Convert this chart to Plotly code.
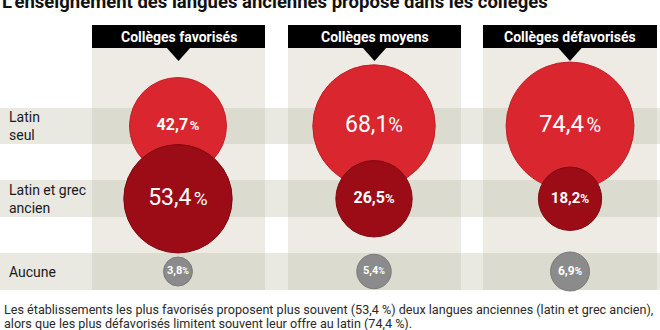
import plotly.graph_objects as go

# ---------------- data ----------------
colleges = ["Collèges favorisés", "Collèges moyens", "Collèges défavorisés"]
rows = ["Latin<br>seul", "Latin et grec<br>ancien", "Aucune"]
latin_seul = [42.7, 68.1, 74.4]
latin_grec = [53.4, 26.5, 18.2]
aucune = [3.8, 5.4, 6.9]
title_text = "L'enseignement des langues anciennes proposé dans les collèges"
footnote_lines = [
    "Les établissements les plus favorisés proposent plus souvent (53,4 %) deux langues anciennes (latin et grec ancien),",
    "alors que les plus défavorisés limitent souvent leur offre au latin (74,4 %).",
]

# ---------------- style ----------------
W, H = 660, 330
FONT = "Roboto"
RED = "#d9262f"
DARK = "#9c0c16"
GREY = "#8b8b8b"
PANEL = "#edebe4"
PANEL_BAND = "#dcdbcf"
OUT_BAND = "#e9e8e1"

def px(x):
    return x / W

def py(y):
    return 1 - y / H

def fmt(v, bold, pct_size, gap):
    num = f"{v:.1f}".replace(".", ",")
    s = f"{num}{gap}<span style='font-size:{pct_size}px'>%</span>"
    return f"<b>{s}</b>" if bold else s

HAIR = "\u200a"
series = [
    (latin_seul, RED, "#c41f28", [16, 23, 24], [True, False, False], [13, 20, 20], [HAIR, "", HAIR]),
    (latin_grec, DARK, "#7e0810", [23, 16, 15], [False, True, True], [19, 13, 12], [HAIR, "", ""]),
    (aucune, GREY, "#7a7a7a", [11, 11, 12], [True, True, True], [9, 9, 10], ["", "", ""]),
]

fig = go.Figure()
SIZEREF = 2 / 220
for row, (vals, col, edge, sizes, bolds, psizes, gaps) in zip(rows, series):
    fig.add_trace(go.Scatter(
        x=colleges,
        y=[row] * len(colleges),
        mode="markers+text",
        marker=dict(size=vals, sizemode="area", sizeref=SIZEREF, color=col,
                    line=dict(color=edge, width=1), opacity=1),
        text=[fmt(v, b, p, g) for v, b, p, g in zip(vals, bolds, psizes, gaps)],
        textposition="middle center",
        textfont=dict(family=FONT, size=sizes, color="white"),
        hoverinfo="skip",
        cliponaxis=False,
        showlegend=False,
    ))

shapes = []
band_y = [(108, 144), (180, 217), (253, 290)]
panels_x = [(92, 265), (288, 461), (483, 657)]
for y0, y1 in band_y:
    shapes.append(dict(type="rect", xref="paper", yref="paper", x0=0, x1=1,
                       y0=py(y1), y1=py(y0), fillcolor=OUT_BAND, line_width=0, layer="below"))
for x0, x1 in panels_x:
    shapes.append(dict(type="rect", xref="paper", yref="paper", x0=px(x0), x1=px(x1),
                       y0=py(290), y1=py(48), fillcolor=PANEL, line_width=0, layer="below"))
    for y0, y1 in band_y:
        shapes.append(dict(type="rect", xref="paper", yref="paper", x0=px(x0), x1=px(x1),
                           y0=py(y1), y1=py(y0), fillcolor=PANEL_BAND, line_width=0, layer="below"))
    shapes.append(dict(type="rect", xref="paper", yref="paper", x0=px(x0), x1=px(x1),
                       y0=py(48), y1=py(25), fillcolor="#000000", line_width=0, layer="below"))
    c = (x0 + x1) / 2
    shapes.append(dict(type="path", xref="paper", yref="paper",
                       path=f"M {px(c-12.5)} {py(47)} L {px(c+12.5)} {py(47)} L {px(c)} {py(61)} Z",
                       fillcolor="#000000", line_width=0, layer="below"))

annotations = []
for (x0, x1), name in zip(panels_x, colleges):
    annotations.append(dict(x=px((x0 + x1) / 2), y=py(36.5), xref="paper", yref="paper",
                            text=f"<b>{name}</b>", showarrow=False,
                            font=dict(family=FONT, size=14, color="white"),
                            xanchor="center", yanchor="middle"))
for row in rows:
    annotations.append(dict(x=px(7), y=row, xref="paper", yref="y", text=row,
                            showarrow=False, align="left",
                            font=dict(family=FONT, size=14, color="#1a1a1a"),
                            xanchor="left", yanchor="middle"))
annotations.append(dict(x=px(0), y=py(2), xref="paper", yref="paper",
                        text=f"<b>{title_text}</b>", showarrow=False,
                        font=dict(family=FONT, size=18.5, color="#111111"),
                        xanchor="left", yanchor="middle"))
for i, line in enumerate(footnote_lines):
    annotations.append(dict(x=px(2), y=py(309.5 + 14 * i), xref="paper", yref="paper",
                            text=line, showarrow=False,
                            font=dict(family=FONT, size=12.6, color="#2a2a2a"),
                            xanchor="left", yanchor="middle"))

fig.update_layout(
    width=W, height=H,
    margin=dict(l=0, r=0, t=0, b=0),
    paper_bgcolor="white", plot_bgcolor="rgba(0,0,0,0)",
    xaxis=dict(type="category", categoryorder="array", categoryarray=colleges,
               range=[-0.908, 2.459], visible=False, fixedrange=True),
    yaxis=dict(type="category", categoryorder="array", categoryarray=rows,
               range=[2.804, -1.732], visible=False, fixedrange=True),
    shapes=shapes,
    annotations=annotations,
    showlegend=False,
)

fig.write_html("out.html", config={"displayModeBar": False})
